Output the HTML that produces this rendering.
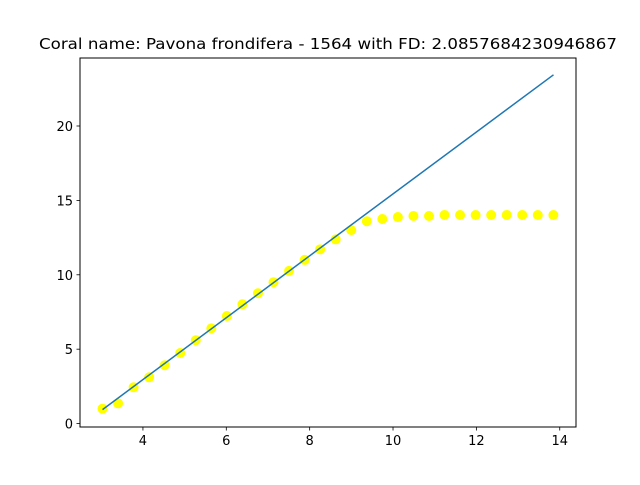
<!DOCTYPE html>
<html><head><meta charset="utf-8"><style>
body{margin:0;background:#fff;}
svg text{font-family:"DejaVu Sans","Liberation Sans",sans-serif;}
</style></head><body>
<svg id="chart" width="640" height="480" xmlns="http://www.w3.org/2000/svg">
<rect width="640" height="480" fill="#fff"/>
<text x="328" y="49" font-size="15.5" text-anchor="middle" textLength="578" lengthAdjust="spacingAndGlyphs">Coral name: Pavona frondifera - 1564 with FD: 2.0857684230946867</text>
<g id="plot"></g>
<rect x="80" y="58" width="496" height="369" fill="none" stroke="#000" stroke-width="1"/>
</svg>
<script>
const xStart = 3.03, xStep = 0.373;
const yValues = [1.0,1.36,2.44,3.11,3.92,4.74,5.6,6.4,7.23,8.02,8.76,9.5,10.26,11.0,11.71,12.38,13.0,13.6,13.75,13.88,13.95,13.95,14.02,14.02,14.02,14.02,14.02,14.02,14.02,14.02];
const lineX = [3.03, 13.85];
const lineY = [0.94, 23.44];
const xTicks = [4,6,8,10,12,14];
const yTicks = [0,5,10,15,20];
const xMin=2.49,xMax=14.39,yMin=-0.23,yMax=24.57;
const L=80,R=576,T=58,B=427;
const sx=v=>L+(v-xMin)/(xMax-xMin)*(R-L);
const sy=v=>B-(v-yMin)/(yMax-yMin)*(B-T);
const NS="http://www.w3.org/2000/svg";
const g=document.getElementById('plot');
function mk(t,a){const e=document.createElementNS(NS,t);for(const k in a)e.setAttribute(k,a[k]);g.appendChild(e);return e;}
yValues.forEach((v,i)=>{
  const c=mk('circle',{cx:sx(xStart+i*xStep),cy:sy(v),r:5,fill:'#ffff00'});
  
  
});
const ln=mk('line',{x1:sx(lineX[0]),y1:sy(lineY[0]),x2:sx(lineX[1]),y2:sy(lineY[1]),stroke:'#1f77b4','stroke-width':1.5});


xTicks.forEach(t=>{
  const x=sx(t);
  const tk=mk('line',{x1:x,y1:B,x2:x,y2:B+3.5,stroke:'#000','stroke-width':0.8});
  
  
  const tx=mk('text',{x:x,y:B+18,'font-size':13,'text-anchor':'middle'});
  tx.textContent=t;
  
  
});
yTicks.forEach(t=>{
  const y=sy(t);
  const tk=mk('line',{x1:L-3.5,y1:y,x2:L,y2:y,stroke:'#000','stroke-width':0.8});
  
  
  const tx=mk('text',{x:L-7,y:y+5,'font-size':13,'text-anchor':'end'});
  tx.textContent=t;
  
  
});
</script>
</body></html>
